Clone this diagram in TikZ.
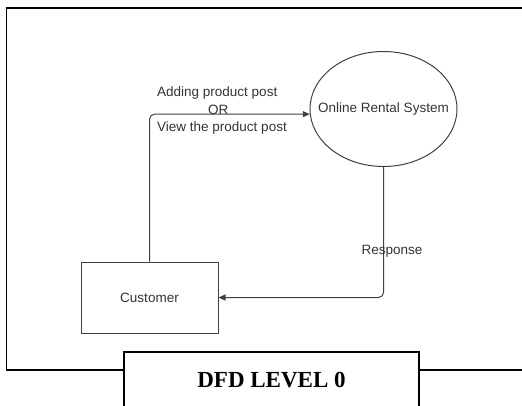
\documentclass[tikz,border=0pt]{standalone}
\usepackage{fontspec}
\setmainfont{Liberation Serif}
\setsansfont{Liberation Sans}
\usepackage{tikz}
\usetikzlibrary{shapes.geometric}
\usetikzlibrary{arrows.meta}
\tikzset{lbl/.style={font=\sffamily\fontsize{13.5}{17.5}\selectfont, text=black!80}}
\tikzset{entity/.style={lbl, draw=black!75, line width=1pt, minimum width=137pt, minimum height=71pt}}
\tikzset{process/.style={lbl, ellipse, draw=black!75, line width=1pt, inner sep=0pt, inner xsep=-20pt, minimum width=147pt, minimum height=115pt}}
\tikzset{flow/.style={draw=black!75, line width=1pt, rounded corners=5pt, -{Triangle[length=7pt,width=6pt]}}}
\tikzset{titlebox/.style={font=\rmfamily\bfseries\fontsize{23}{23}\selectfont, fill=white, inner sep=0pt, minimum width=295pt, minimum height=57pt}}

\begin{document}
\begin{tikzpicture}[x=1pt,y=-1pt]
    \useasboundingbox (0,0) rectangle (522,405);
    \draw[line width=1.5pt] (524,8)--(6.5,8)--(6.5,370)--(524,370);
    \node[titlebox] (title) at (271.5,380.5) {DFD LEVEL 0};
    \draw[line width=1.5pt] (title.south west)--(title.north west)--(title.north east)--(title.south east);
    \node[entity] (cust) at (149.5,297.5) {Customer};
    \node[process] (ors) at (383.5,109) {Online Rental System};
    \draw[flow] (cust.north) |- (ors.184);
    \draw[flow] (ors.south) |- (cust.east);
    \node[lbl, align=left, anchor=west, inner sep=0pt] (req) at (157,111) {Adding product post\\\hspace*{51pt}OR\\View the product post};
    \node[lbl] (resp) at (392,251) {Response};
\end{tikzpicture}
\end{document}
